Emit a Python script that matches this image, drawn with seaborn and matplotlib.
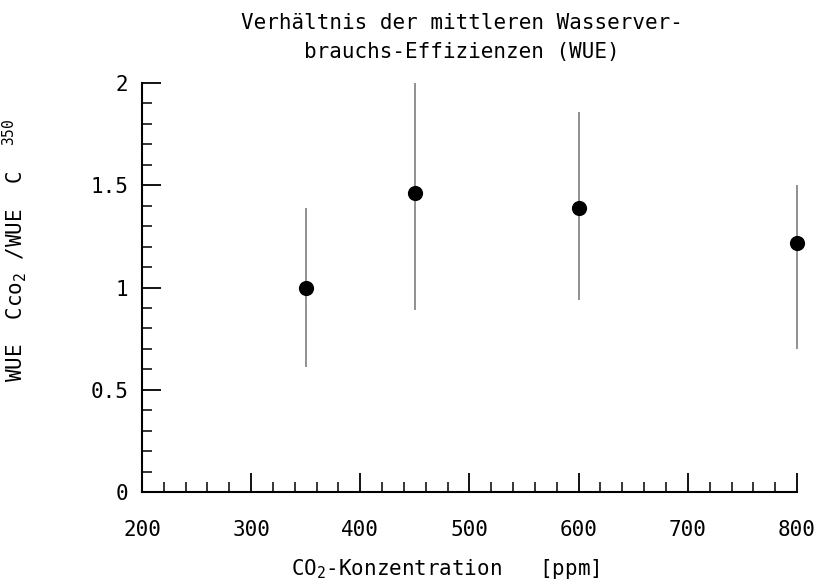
import matplotlib
matplotlib.use("Agg")
import matplotlib.pyplot as plt
import seaborn as sns
import pandas as pd
from matplotlib.ticker import MultipleLocator

# ---- data ----
conc = [350, 450, 600, 800]                 # CO2 concentration [ppm]
ratio = [1.00, 1.46, 1.39, 1.22]            # WUE ratio (mean)
err_lower = [0.61, 0.89, 0.94, 0.70]        # lower end of range
err_upper = [1.39, 2.00, 1.86, 1.50]        # upper end of range
xticks = [200, 300, 400, 500, 600, 700, 800]
yticks = [0, 0.5, 1, 1.5, 2]
ytick_labels = ["0", "0.5", "1", "1.5", "2"]

df = pd.DataFrame({"conc": conc, "ratio": ratio,
                   "lo": err_lower, "hi": err_upper})

sns.set_theme(style="ticks")
plt.rcParams["font.family"] = ["DejaVu Sans Mono", "DejaVu Sans"]
plt.rcParams["mathtext.fontset"] = "custom"
plt.rcParams["mathtext.rm"] = "DejaVu Sans Mono"
plt.rcParams["mathtext.it"] = "DejaVu Sans Mono"
plt.rcParams["mathtext.default"] = "rm"

fig = plt.figure(figsize=(8.22, 5.83), dpi=100)
ax = fig.add_axes([0.1727, 0.156, 0.7969, 0.7016])

ax.vlines(df["conc"], df["lo"], df["hi"], color="#909090", linewidth=1.4,
          zorder=2, clip_on=False)
sns.scatterplot(data=df, x="conc", y="ratio", ax=ax, color="black",
                s=120, edgecolor="black", linewidth=0, zorder=3, legend=False,
                clip_on=False)

ax.set_xlim(200, 800)
ax.set_ylim(0, 2)
ax.set_xticks(xticks)
ax.set_yticks(yticks)
ax.set_yticklabels(ytick_labels)
ax.xaxis.set_minor_locator(MultipleLocator(20))
ax.yaxis.set_minor_locator(MultipleLocator(0.1))

for s in ["top", "right"]:
    ax.spines[s].set_visible(False)
for s in ["left", "bottom"]:
    ax.spines[s].set_linewidth(1.5)
    ax.spines[s].set_color("black")

ax.tick_params(axis="x", which="major", direction="in", length=14, width=1.3,
               pad=20, labelsize=15, colors="black")
ax.tick_params(axis="x", which="minor", direction="in", length=7, width=1.3)
ax.tick_params(axis="y", which="major", direction="in", length=14, width=1.3,
               pad=10, labelsize=15, colors="black")
ax.tick_params(axis="y", which="minor", direction="in", length=7, width=1.3)

ax.set_xlabel("CO$_2$-Konzentration   [ppm]", fontsize=15, color="black")
ax.xaxis.set_label_coords(0.4626, -0.158)
ax.set_ylabel("WUE  Cco$_2$ /WUE  C  $^{350}$", fontsize=15, color="black")
ax.yaxis.set_label_coords(-0.172, 0.592)

fig.text(0.562, 0.978, "Verhältnis der mittleren Wasserver-\nbrauchs-Effizienzen (WUE)",
         ha="center", va="top", fontsize=15, linespacing=1.55, color="black")

fig.savefig("out.png", dpi=100, facecolor="white")
